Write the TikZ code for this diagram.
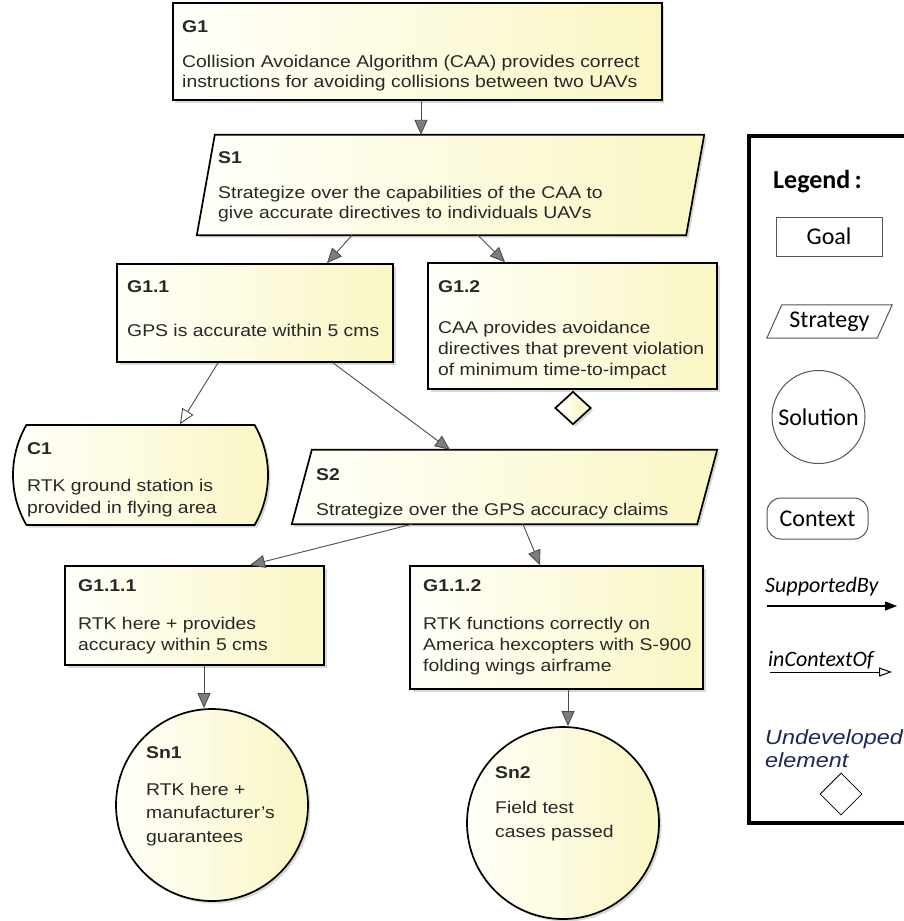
\documentclass[tikz,border=0pt]{standalone}
\usepackage{fontspec}
\setmainfont{Liberation Sans}[FakeStretch=1.14]
\newfontfamily\legfont{Carlito}
\usetikzlibrary{shapes.misc,shapes.geometric,shadows,arrows.meta}
\definecolor{gsnA}{RGB}{255,255,250}
\definecolor{gsnB}{RGB}{250,246,196}
\definecolor{tipfill}{RGB}{125,125,125}
\definecolor{undcol}{RGB}{28,38,88}
\definecolor{leggray}{RGB}{85,85,85}
\definecolor{txtcol}{RGB}{40,40,40}
\tikzset{
  gsn/.style={draw=black, line width=1.7pt, left color=gsnA, right color=gsnB,
    drop shadow={shadow xshift=2.5pt, shadow yshift=-2.5pt, opacity=0.3}},
  goalbox/.style={gsn, rectangle, inner sep=0pt},
  ctxbox/.style={gsn, rounded rectangle, rounded rectangle arc length=60, inner sep=0pt},
  solbox/.style={gsn, circle, inner sep=0pt},
  undev/.style={gsn, diamond, inner sep=0pt},
  area/.style={inner sep=0pt, rectangle},
  txt/.style={anchor=base west, inner sep=0pt, text=txtcol, font=\fontsize{17}{20}\selectfont},
  txtb/.style={txt, font=\fontsize{17}{20}\selectfont\bfseries},
  sup/.style={draw=black!70, line width=0.9pt, -{Triangle[length=15pt,width=13pt,fill=tipfill]}},
  ctx/.style={draw=black!70, line width=0.9pt, -{Triangle[open,length=15pt,width=13pt,fill=white]}},
  legshape/.style={draw=leggray, line width=1pt},
  legtxt/.style={inner sep=0pt, font=\legfont\fontsize{24}{28}\selectfont},
  legit/.style={anchor=base west, inner sep=0pt, font=\legfont\itshape\fontsize{22}{26}\selectfont},
}
\begin{document}
\begin{tikzpicture}[x=1pt,y=-1pt]
\useasboundingbox (0,0) rectangle (904,921);
\fill[white] (0,0) rectangle (904,921);

% ---------- G1
\node[goalbox, minimum width=489pt, minimum height=97pt] (G1) at (417.4,51.5) {};
\node[txtb] (G1l) at (182,32) {G1};
\node[txt] (G1a) at (182,67) {Collision Avoidance Algorithm (CAA) provides correct};
\node[txt] (G1b) at (182,87) {instructions for avoiding collisions between two UAVs};

% ---------- S1
\node[area, minimum width=507pt, minimum height=100pt] (S1) at (450.5,185) {};
\path[gsn] ([xshift=18pt]S1.north west) -- (S1.north east) -- ([xshift=-18pt]S1.south east) -- (S1.south west) -- cycle;
\node[txtb] (S1l) at (218,163) {S1};
\node[txt] (S1a) at (218,198) {Strategize over the capabilities of the CAA to};
\node[txt] (S1b) at (218,218) {give accurate directives to individuals UAVs};

% ---------- G1.1
\node[goalbox, minimum width=276pt, minimum height=98pt] (G11) at (255,313) {};
\node[txtb] (G11l) at (127,292) {G1.1};
\node[txt] (G11a) at (127,336) {GPS is accurate within 5 cms};

% ---------- G1.2
\node[goalbox, minimum width=289pt, minimum height=126pt] (G12) at (572.5,326) {};
\node[txtb] (G12l) at (438,292) {G1.2};
\node[txt] (G12a) at (438,333) {CAA provides avoidance};
\node[txt] (G12b) at (438,354) {directives that prevent violation};
\node[txt] (G12c) at (438,375) {of minimum time-to-impact};
\node[undev, minimum width=36pt, minimum height=33pt] (U12) at (573,408) {};

% ---------- C1
\node[ctxbox, minimum width=255pt, minimum height=100pt] (C1) at (140.5,475) {};
\node[txtb] (C1l) at (27,454) {C1};
\node[txt] (C1a) at (27,491) {RTK ground station is};
\node[txt] (C1b) at (27,513) {provided in flying area};

% ---------- S2
\node[area, minimum width=425pt, minimum height=74pt] (S2) at (504.5,487) {};
\path[gsn] ([xshift=20pt]S2.north west) -- (S2.north east) -- ([xshift=-20pt]S2.south east) -- (S2.south west) -- cycle;
\node[txtb] (S2l) at (316,480) {S2};
\node[txt] (S2a) at (316,515) {Strategize over the GPS accuracy claims};

% ---------- G1.1.1
\node[goalbox, minimum width=259pt, minimum height=99pt] (G111) at (194.5,615.5) {};
\node[txtb] (G111l) at (78,591) {G1.1.1};
\node[txt] (G111a) at (78,629) {RTK here + provides};
\node[txt] (G111b) at (78,650) {accuracy within 5 cms};

% ---------- G1.1.2
\node[goalbox, minimum width=293pt, minimum height=123pt] (G112) at (556.5,627.5) {};
\node[txtb] (G112l) at (423,591) {G1.1.2};
\node[txt] (G112a) at (423,629) {RTK functions correctly on};
\node[txt] (G112b) at (423,650) {America hexcopters with S-900};
\node[txt] (G112c) at (423,671) {folding wings airframe};

% ---------- Sn1
\node[solbox, minimum size=192pt] (Sn1) at (212,805) {};
\node[txtb] (Sn1l) at (146,758) {Sn1};
\node[txt] (Sn1a) at (146,795) {RTK here +};
\node[txt] (Sn1b) at (146,818) {manufacturer's};
\node[txt] (Sn1c) at (146,842) {guarantees};

% ---------- Sn2
\node[solbox, minimum size=192pt] (Sn2) at (563,823) {};
\node[txtb] (Sn2l) at (495,778) {Sn2};
\node[txt] (Sn2a) at (495,813) {Field test};
\node[txt] (Sn2b) at (495,837) {cases passed};

% ---------- connectors
\draw[sup] ([xshift=3.6pt]G1.south) -- ([xshift=-29.5pt]S1.north);
\draw[sup] ([xshift=-98.5pt]S1.south) -- ([xshift=72pt]G11.north);
\draw[sup] ([xshift=27.5pt]S1.south) -- ([xshift=-67.5pt]G12.north);
\draw[ctx] ([xshift=-37pt]G11.south) -- ([xshift=39.5pt]C1.north);
\draw[sup] ([xshift=78pt]G11.south) -- ([xshift=-54.5pt]S2.north);
\draw[sup] ([xshift=-92.5pt]S2.south) -- ([xshift=55.5pt]G111.north);
\draw[sup] ([xshift=18.5pt]S2.south) -- ([xshift=-16.5pt]G112.north);
\draw[sup] ([xshift=9.5pt]G111.south) -- ([xshift=-8pt]Sn1.north);
\draw[sup] ([xshift=11.5pt]G112.south) -- ([xshift=5pt]Sn2.north);

% ---------- legend
\draw[line width=4.5pt] (912,136) -- (749,136) -- (749,823) -- (912,823);
\node[anchor=base west, inner sep=0pt, font=\legfont\bfseries\fontsize{26}{30}\selectfont] (LegT) at (773,188) {Legend\,:};
\node[legshape, rectangle, minimum width=106pt, minimum height=39pt, inner sep=0pt] (LGoal) at (829,236.5) {};
\node[legtxt] (LGoalt) at (LGoal) {Goal};
\node[area, minimum width=125pt, minimum height=33pt] (LStr) at (829.5,321.5) {};
\draw[legshape] ([xshift=15pt]LStr.north west) -- (LStr.north east) -- ([xshift=-15pt]LStr.south east) -- (LStr.south west) -- cycle;
\node[legtxt] (LStrt) at (LStr) {Strategy};
\node[legshape, circle, minimum size=93pt, inner sep=0pt] (LSol) at (818.5,417) {};
\node[legtxt] (LSolt) at (LSol) {Solution};
\node[legshape, rectangle, rounded corners=14pt, minimum width=101pt, minimum height=41pt, inner sep=0pt] (LCtx) at (817.5,518.5) {};
\node[legtxt] (LCtxt) at (LCtx) {Context};
\node[legit] (LSup) at (765,592) {SupportedBy};
\coordinate (LSupA) at (767,606);
\coordinate (LSupB) at (897,606);
\draw[line width=1.3pt, -{Triangle[length=12pt,width=9pt]}] (LSupA) -- (LSupB);
\node[legit] (LCon) at (768,666) {inContextOf};
\coordinate (LConA) at (770,672);
\coordinate (LConB) at (892,672);
\draw[line width=1pt, -{Triangle[open,length=13pt,width=9pt,fill=white]}] (LConA) -- (LConB);
\node[anchor=base west, inner sep=0pt, text=undcol, font=\itshape\fontsize{20.5}{23}\selectfont] (LUnd1) at (765,744) {Undeveloped};
\node[anchor=base west, inner sep=0pt, text=undcol, font=\itshape\fontsize{20.5}{23}\selectfont] (LUnd2) at (765,767) {element};
\node[draw=black, line width=0.8pt, fill=white, diamond, minimum width=42pt, minimum height=42pt, inner sep=0pt] (LDia) at (841,794) {};
\end{tikzpicture}
\end{document}
